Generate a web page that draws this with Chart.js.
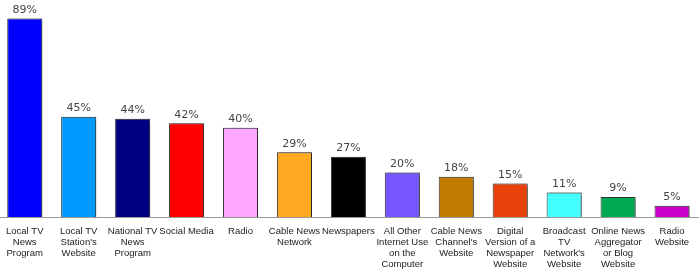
<!DOCTYPE html>
<html>
<head>
<meta charset="utf-8">
<script src="https://cdn.jsdelivr.net/npm/chart.js@4"></script>
<style>
  html, body { margin: 0; padding: 0; background: #fff; overflow: hidden; }
  #wrap { width: 702px; height: 273px; margin-left: -3px; }
</style>
</head>
<body>
<div id="wrap"><canvas id="ch"></canvas></div>
<script>
const categories = [
  ['Local TV', 'News', 'Program'],
  ['Local TV', "Station's", 'Website'],
  ['National TV', 'News', 'Program'],
  ['Social Media'],
  ['Radio'],
  ['Cable News', 'Network'],
  ['Newspapers'],
  ['All Other', 'Internet Use', 'on the', 'Computer'],
  ['Cable News', "Channel's", 'Website'],
  ['Digital', 'Version of a', 'Newspaper', 'Website'],
  ['Broadcast', 'TV', "Network's", 'Website'],
  ['Online News', 'Aggregator', 'or Blog', 'Website'],
  ['Radio', 'Website']
];
const values = [89, 45, 44, 42, 40, 29, 27, 20, 18, 15, 11, 9, 5];
const barColors = ['#0000ff', '#0099ff', '#000080', '#ff0000', '#ffa6ff', '#ffaa22', '#000000',
                   '#7755ff', '#c07c00', '#e8420c', '#44ffff', '#00aa55', '#cc00cc'];

// bar shadow + percent labels
const barExtras = {
  id: 'barExtras',
  beforeDatasetDraw(chart) {
    const ctx = chart.ctx;
    ctx.save();
    ctx.shadowColor = 'rgba(0,0,0,0.35)';
    ctx.shadowOffsetX = 2;
    ctx.shadowOffsetY = 0;
    ctx.shadowBlur = 1;
  },
  afterDatasetDraw(chart) {
    chart.ctx.restore();
  },
  afterDatasetsDraw(chart) {
    const ctx = chart.ctx;
    const meta = chart.getDatasetMeta(0);
    ctx.save();
    ctx.font = '11px "DejaVu Sans", Verdana, sans-serif';
    ctx.fillStyle = '#444';
    ctx.textAlign = 'center';
    ctx.textBaseline = 'bottom';
    meta.data.forEach((bar, i) => {
      ctx.fillText(values[i] + '%', bar.x, bar.y - 3);
    });
    ctx.restore();
  }
};

new Chart(document.getElementById('ch'), {
  type: 'bar',
  data: {
    labels: categories,
    datasets: [{
      data: values,
      backgroundColor: barColors,
      borderColor: '#333',
      borderWidth: 1,
      borderSkipped: 'bottom',
      barPercentage: 0.65,
      categoryPercentage: 1
    }]
  },
  options: {
    responsive: true, maintainAspectRatio: false, animation: false,
    layout: { padding: 0 },
    plugins: { legend: { display: false }, tooltip: { enabled: false } },
    scales: {
      x: {
        grid: { display: false, drawTicks: false },
        border: { color: '#999', width: 1 },
        afterFit: s => { s.height = 56; },
        ticks: { autoSkip: false, maxRotation: 0, minRotation: 0, padding: 9, color: '#222',
                 font: { family: '"Liberation Sans", Arial, sans-serif', size: 9.5, lineHeight: 1.15 } }
      },
      y: { display: false, min: 0, max: 97.3 }
    }
  },
  plugins: [barExtras]
});
</script>
</body>
</html>
